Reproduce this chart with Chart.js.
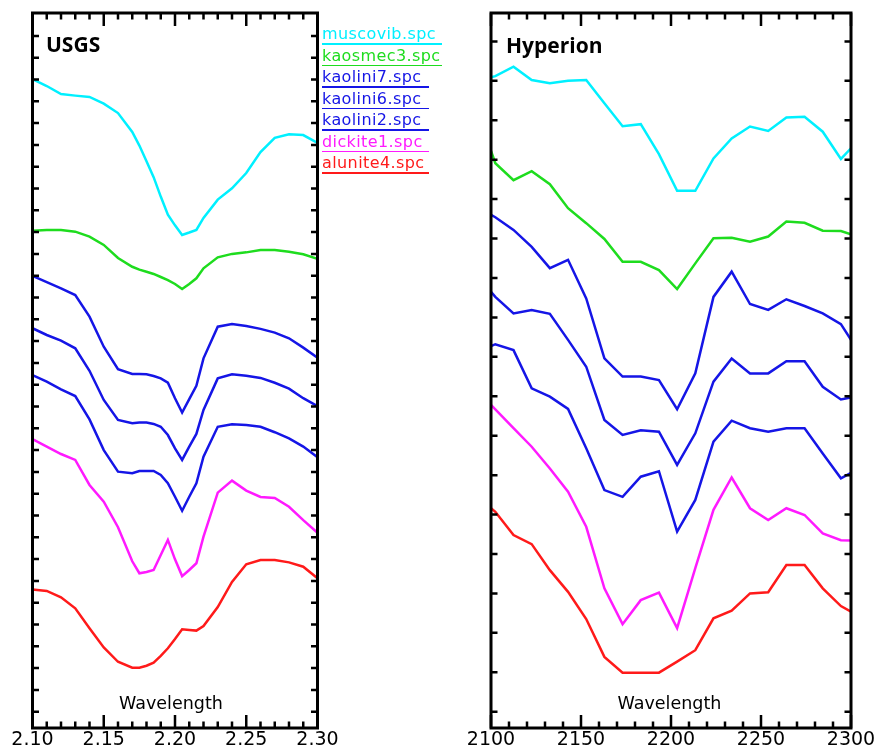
<!DOCTYPE html>
<html>
<head>
<meta charset="utf-8">
<script src="https://cdn.jsdelivr.net/npm/chart.js@4"></script>
<style>
  html, body { margin: 0; padding: 0; background: #fff; }
  #wrap { position: relative; width: 877px; height: 752px; overflow: hidden; }
  canvas { position: absolute; top: 0; }
  .txt { position: absolute; white-space: nowrap; line-height: 1; }
  .title { font-family: "Open Sans", "DejaVu Sans", sans-serif; font-weight: bold; font-size: 21px; color: #000; }
  .axt { font-family: "DejaVu Sans", sans-serif; font-size: 17.5px; color: #000; width: 200px; text-align: center; }
  .leg { font-family: "DejaVu Sans", sans-serif; font-size: 16px; letter-spacing: 0.4px; overflow: hidden; }
  .legline { position: absolute; height: 1.5px; }
</style>
</head>
<body>
<div id="wrap">
  <canvas id="usgs" width="440" height="752" style="left:0px"></canvas>
  <canvas id="hyp" width="437" height="752" style="left:440px"></canvas>
</div>
<script>
// ---------------- data (USGS library, wavelength in micrometres) ----------------
const usgsWavelengths = [2.100, 2.110, 2.120, 2.130, 2.140, 2.150, 2.160, 2.170, 2.175, 2.180, 2.185, 2.190, 2.195,
                         2.200, 2.205, 2.210, 2.215, 2.220, 2.230, 2.240, 2.250, 2.260, 2.270, 2.280, 2.290, 2.300];
const usgsMuscovib = [29.02, 28.70, 28.33, 28.26, 28.20, 27.89, 27.46, 26.59, 25.97, 25.25, 24.52, 23.63, 22.80,
                      22.31, 21.87, 21.98, 22.10, 22.65, 23.49, 24.01, 24.71, 25.67, 26.32, 26.49, 26.45, 26.09];
const usgsKaosmec3 = [22.06, 22.10, 22.10, 22.02, 21.79, 21.41, 20.81, 20.41, 20.28, 20.18, 20.08, 19.94, 19.80,
                      19.62, 19.39, 19.62, 19.88, 20.34, 20.84, 21.00, 21.07, 21.18, 21.18, 21.10, 20.98, 20.77];
const usgsKaolini7 = [19.99, 19.70, 19.42, 19.11, 18.12, 16.74, 15.71, 15.49, 15.49, 15.48, 15.40, 15.29, 15.09,
                      14.38, 13.72, 14.34, 14.95, 16.21, 17.66, 17.78, 17.69, 17.56, 17.39, 17.13, 16.70, 16.24];
const usgsKaolini6 = [17.59, 17.28, 17.02, 16.67, 15.64, 14.30, 13.38, 13.23, 13.26, 13.26, 13.20, 13.07, 12.69,
                      12.08, 11.55, 12.16, 12.74, 13.84, 15.29, 15.48, 15.41, 15.31, 15.09, 14.82, 14.38, 14.02];
const usgsKaolini2 = [15.44, 15.14, 14.79, 14.48, 13.41, 12.00, 11.01, 10.94, 11.04, 11.04, 11.04, 10.86, 10.48,
                      9.86, 9.22, 9.86, 10.48, 11.70, 13.07, 13.18, 13.15, 13.07, 12.82, 12.54, 12.16, 11.67];
const usgsDickite1 = [12.50, 12.16, 11.82, 11.55, 10.40, 9.63, 8.46, 6.90, 6.35, 6.41, 6.50, 7.19, 7.88,
                      6.99, 6.22, 6.50, 6.81, 8.03, 10.05, 10.60, 10.14, 9.85, 9.80, 9.40, 8.79, 8.21];
const usgsAlunite4 = [5.61, 5.54, 5.25, 4.74, 3.83, 2.95, 2.29, 2.02, 2.02, 2.11, 2.25, 2.56, 2.91,
                      3.33, 3.78, 3.75, 3.72, 3.93, 4.80, 5.95, 6.76, 6.96, 6.96, 6.85, 6.65, 6.12];

// ---------------- data (Hyperion image spectra, wavelength in nm) ----------------
const hypWavelengths = [2100.0, 2102.4, 2112.5, 2122.6, 2132.7, 2142.8, 2152.9, 2163.0, 2173.1, 2183.2, 2193.3,
                        2203.4, 2213.5, 2223.6, 2233.7, 2243.9, 2254.0, 2264.1, 2274.2, 2284.3, 2294.4, 2300.0];
const hypMuscovib = [16.09, 16.12, 16.36, 16.02, 15.94, 16.00, 16.02, 15.43, 14.85, 14.90, 14.14,
                     13.21, 13.21, 14.03, 14.54, 14.84, 14.73, 15.07, 15.09, 14.71, 14.02, 14.29];
const hypKaosmec3 = [14.22, 13.91, 13.48, 13.71, 13.38, 12.77, 12.39, 11.99, 11.41, 11.41, 11.20,
                     10.72, 11.37, 12.01, 12.02, 11.92, 12.05, 12.43, 12.40, 12.20, 12.19, 12.11];
const hypKaolini7 = [12.60, 12.54, 12.22, 11.79, 11.25, 11.46, 10.48, 8.96, 8.50, 8.50, 8.41,
                     7.67, 8.58, 10.52, 11.16, 10.34, 10.19, 10.46, 10.29, 10.10, 9.83, 9.43];
const hypKaolini6 = [10.65, 10.52, 10.10, 10.19, 10.09, 9.43, 8.75, 7.40, 7.02, 7.14, 7.10,
                     6.26, 7.06, 8.37, 8.96, 8.58, 8.58, 8.89, 8.89, 8.24, 7.92, 7.97];
const hypKaolini2 = [9.27, 9.32, 9.17, 8.20, 7.99, 7.68, 6.68, 5.62, 5.45, 5.96, 6.10,
                     4.57, 5.37, 6.85, 7.38, 7.19, 7.10, 7.19, 7.19, 6.55, 5.92, 6.06];
const hypDickite1 = [7.78, 7.67, 7.19, 6.72, 6.17, 5.58, 4.69, 3.13, 2.22, 2.83, 3.02,
                     2.12, 3.64, 5.12, 5.94, 5.16, 4.86, 5.16, 4.99, 4.52, 4.35, 4.34];
const hypAlunite4 = [5.16, 5.07, 4.48, 4.25, 3.59, 3.04, 2.35, 1.39, 0.99, 0.99, 0.99,
                     1.27, 1.56, 2.37, 2.56, 3.00, 3.03, 3.72, 3.72, 3.13, 2.68, 2.54];

// ---------------- labels ----------------
const seriesNames = ['muscovib.spc', 'kaosmec3.spc', 'kaolini7.spc', 'kaolini6.spc', 'kaolini2.spc', 'dickite1.spc', 'alunite4.spc'];
const seriesColors = ['#00f0ff', '#1edc1e', '#1515e6', '#1515e6', '#1515e6', '#ff1aff', '#ff1a1a'];
const usgsTickLabels = [2.10, 2.15, 2.20, 2.25, 2.30];
const hypTickLabels = [2100, 2150, 2200, 2250, 2300];
const panelTitles = ['USGS', 'Hyperion'];
const xAxisTitle = 'Wavelength';

const usgsSeries = [usgsMuscovib, usgsKaosmec3, usgsKaolini7, usgsKaolini6, usgsKaolini2, usgsDickite1, usgsAlunite4];
const hypSeries = [hypMuscovib, hypKaosmec3, hypKaolini7, hypKaolini6, hypKaolini2, hypDickite1, hypAlunite4];

// ---------------- frame + inward ticks drawn from the scales ----------------
const framePlugin = {
  id: 'frame',
  afterDatasetsDraw(chart) {
    const o = chart.options.plugins.frame;
    const {ctx, chartArea: a} = chart;
    const xs = chart.scales.x, ys = chart.scales.y;
    ctx.save();
    ctx.strokeStyle = '#000';
    ctx.lineCap = 'butt';
    ctx.lineWidth = 2.5;
    ctx.beginPath();
    const n = Math.round((o.xMax - o.xMin) / o.xMinor);
    for (let i = 0; i <= n; i++) {
      const px = xs.getPixelForValue(o.xMin + i * o.xMinor);
      const len = (i % o.majorEvery === 0) ? 13 : 6.5;
      ctx.moveTo(px, a.bottom); ctx.lineTo(px, a.bottom - len);
      ctx.moveTo(px, a.top); ctx.lineTo(px, a.top + len);
    }
    for (let k = o.yFirst; k <= o.yLast; k++) {
      const py = ys.getPixelForValue(k);
      ctx.moveTo(a.left, py); ctx.lineTo(a.left + 6.5, py);
      ctx.moveTo(a.right, py); ctx.lineTo(a.right - 6.5, py);
    }
    ctx.stroke();
    ctx.lineWidth = 3;
    ctx.strokeRect(a.left, a.top, a.right - a.left, a.bottom - a.top);
    ctx.restore();
  }
};

function makeChart(id, wl, series, cfg) {
  const datasets = series.map((vals, i) => ({
    label: seriesNames[i],
    data: wl.map((x, j) => ({x: x, y: vals[j]})),
    borderColor: seriesColors[i],
    borderWidth: 2.5,
    pointRadius: 0,
    tension: 0,
    fill: false
  }));
  return new Chart(document.getElementById(id), {
    type: 'line',
    data: {datasets},
    options: {
      responsive: false,
      animation: false,
      devicePixelRatio: 1,
      layout: {padding: cfg.padding},
      plugins: {
        legend: {display: false},
        tooltip: {enabled: false},
        frame: {xMin: cfg.xMin, xMax: cfg.xMax, xMinor: cfg.xMinor, majorEvery: 5, yFirst: 0, yLast: cfg.yLast}
      },
      scales: {
        x: {
          type: 'linear', min: cfg.xMin, max: cfg.xMax,
          grid: {display: false, drawTicks: false},
          border: {display: false},
          afterBuildTicks: (s) => { s.ticks = cfg.tickLabels.map(v => ({value: v})); },
          afterFit: (s) => { s.height = 24; },
          ticks: {
            autoSkip: false, maxRotation: 0, minRotation: 0, padding: 1,
            color: '#000',
            font: {family: 'DejaVu Sans', size: 19},
            callback: cfg.fmt
          }
        },
        y: {type: 'linear', display: false, min: cfg.yMin, max: cfg.yMax}
      }
    },
    plugins: [framePlugin]
  });
}

makeChart('usgs', usgsWavelengths, usgsSeries, {
  padding: {left: 32.5, right: 122.5, top: 13, bottom: 0},
  xMin: 2.10, xMax: 2.30, xMinor: 0.01, tickLabels: usgsTickLabels,
  fmt: (v) => Number(v).toFixed(2),
  yMin: -0.748, yMax: 32.05, yLast: 31
});
makeChart('hyp', hypWavelengths, hypSeries, {
  padding: {left: 51, right: 26, top: 13, bottom: 0},
  xMin: 2100, xMax: 2300, xMinor: 10, tickLabels: hypTickLabels,
  fmt: (v) => String(Math.round(v)),
  yMin: -0.413, yMax: 17.72, yLast: 17
});

// ---------------- text overlays ----------------
const wrap = document.getElementById('wrap');
function addText(cls, text, left, top, extra) {
  const d = document.createElement('div');
  d.className = 'txt ' + cls;
  d.textContent = text;
  d.style.left = left + 'px';
  d.style.top = top + 'px';
  if (extra) Object.assign(d.style, extra);
  wrap.appendChild(d);
  return d;
}
addText('title', panelTitles[0], 46, 53 - 0.888 * 21);
addText('title', panelTitles[1], 506, 53.5 - 0.888 * 21);
addText('axt', xAxisTitle, 171 - 100, 710 - 0.846 * 17.5);
addText('axt', xAxisTitle, 669.5 - 100, 710 - 0.846 * 17.5);
const legWidths = [120, 120, 107, 107, 107, 107, 107];
seriesNames.forEach((name, i) => {
  const base = 40 + 21.5 * i;
  addText('leg', name, 322, base - 0.846 * 16, {color: seriesColors[i], width: legWidths[i] + 'px', height: '18px'});
  const ln = document.createElement('div');
  ln.className = 'legline';
  ln.style.left = '322px';
  ln.style.top = (base + 3) + 'px';
  ln.style.width = legWidths[i] + 'px';
  ln.style.background = seriesColors[i];
  wrap.appendChild(ln);
});
</script>
</body>
</html>
